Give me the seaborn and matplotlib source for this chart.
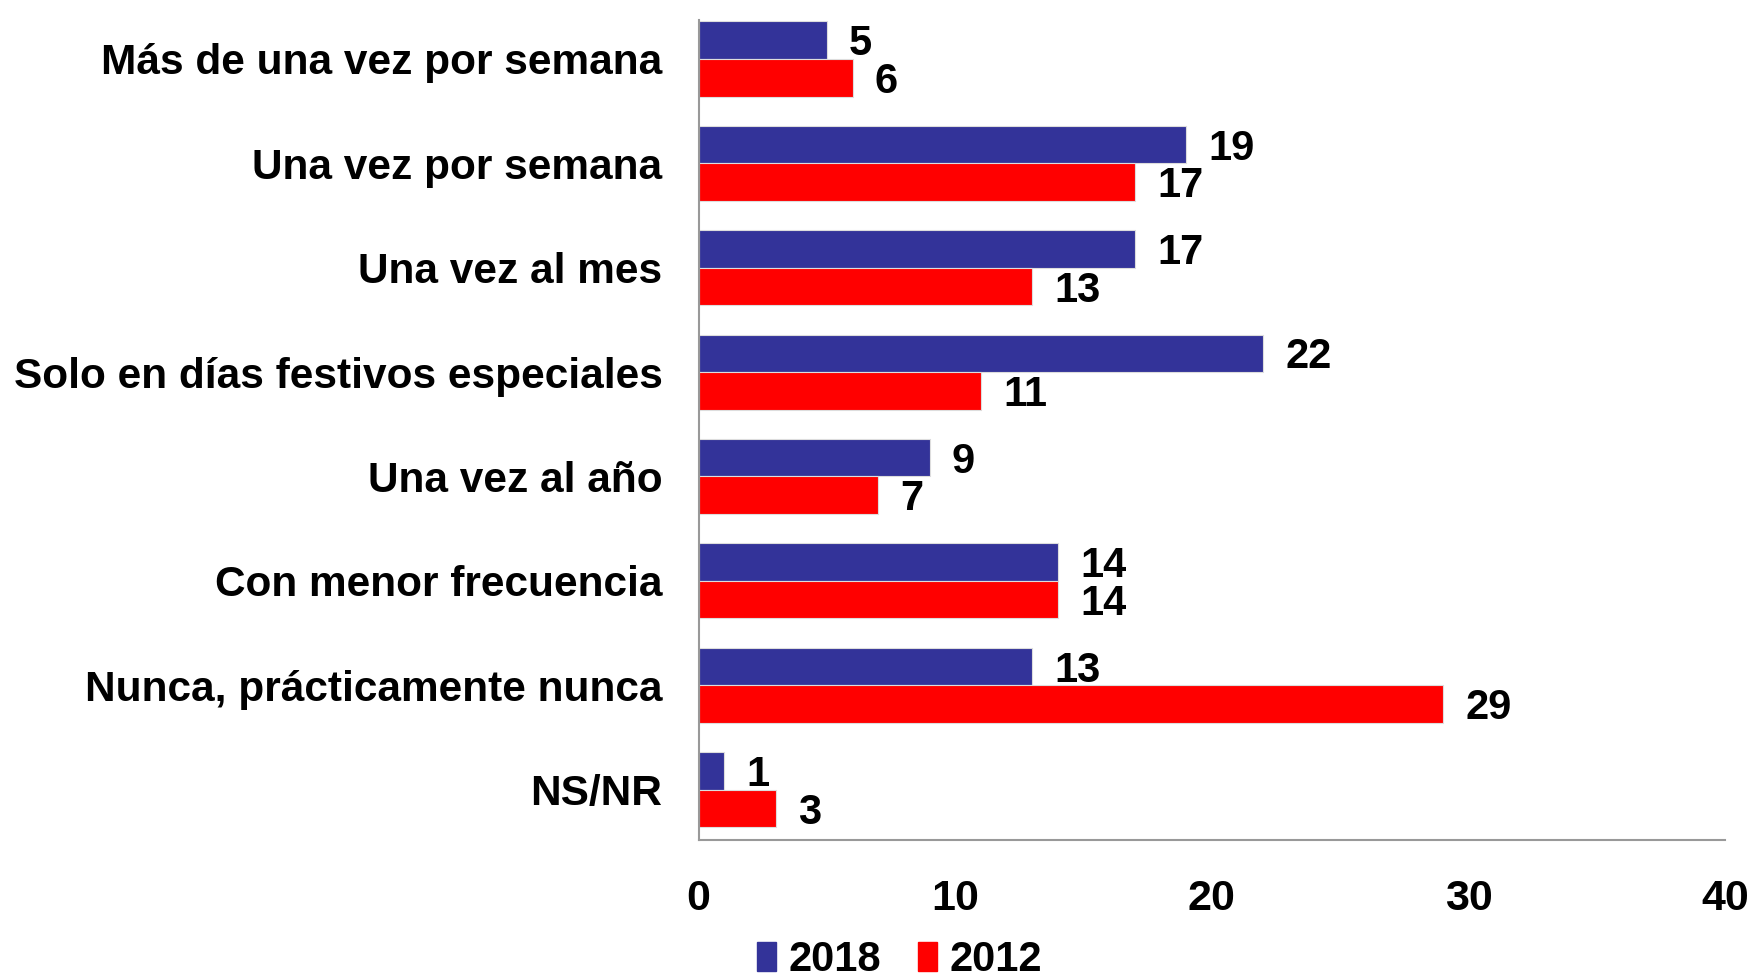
import pandas as pd
import seaborn as sns
import matplotlib.pyplot as plt

categories = ['Más de una vez por semana', 'Una vez por semana', 'Una vez al mes',
              'Solo en días festivos especiales', 'Una vez al año', 'Con menor frecuencia',
              'Nunca, prácticamente nunca', 'NS/NR']
values_2018 = [5, 19, 17, 22, 9, 14, 13, 1]
values_2012 = [6, 17, 13, 11, 7, 14, 29, 3]
years = ['2018', '2012']
x_ticks = [0, 10, 20, 30, 40]

df = pd.DataFrame({
    'Categoria': categories * 2,
    'Valor': values_2018 + values_2012,
    'Año': [years[0]] * len(categories) + [years[1]] * len(categories),
})

sns.set_style('white')
plt.rcParams['font.family'] = ['Liberation Sans', 'DejaVu Sans']
plt.rcParams['font.weight'] = 'bold'
plt.rcParams['text.color'] = 'black'
plt.rcParams['xtick.color'] = 'black'
plt.rcParams['ytick.color'] = 'black'

fig = plt.figure(figsize=(17.64, 9.77), dpi=100)
ax = fig.add_axes([0.396, 0.140, 0.582, 0.840])

sns.barplot(data=df, y='Categoria', x='Valor', hue='Año', orient='h',
            palette={'2018': '#333399', '2012': '#FF0000'}, width=0.72, saturation=1,
            edgecolor='#dddddd', linewidth=0.8, ax=ax, legend=False)

# value labels, nudged down a little to sit centred on the bars
for cont in ax.containers:
    texts = ax.bar_label(cont, padding=16, fontsize=30, fontweight='bold', color='black')
    for t in texts:
        t.xyann = (16, -3)

ax.set_xlim(0, 40)
ax.set_ylim(7.485, -0.378)
ax.set_xticks(x_ticks)
ax.tick_params(axis='x', labelsize=31, pad=28, length=0)
ax.tick_params(axis='y', labelsize=30.5, pad=26, length=0)
for lab in ax.get_xticklabels() + ax.get_yticklabels():
    lab.set_fontweight('bold')
ax.set_xlabel('')
ax.set_ylabel('')
for side in ['top', 'right']:
    ax.spines[side].set_visible(False)
for side in ['left', 'bottom']:
    ax.spines[side].set_color('#999999')
    ax.spines[side].set_linewidth(1.5)

handles = [plt.Rectangle((0, 0), 1, 1, color='#333399'),
           plt.Rectangle((0, 0), 1, 1, color='#FF0000')]
fig.legend(handles, years, loc='center', bbox_to_anchor=(0.510, 0.017), ncol=2,
           frameon=False, fontsize=30, handlelength=0.45, handleheight=0.7,
           handletextpad=0.3, columnspacing=0.9)

fig.savefig('out.png', dpi=100)
